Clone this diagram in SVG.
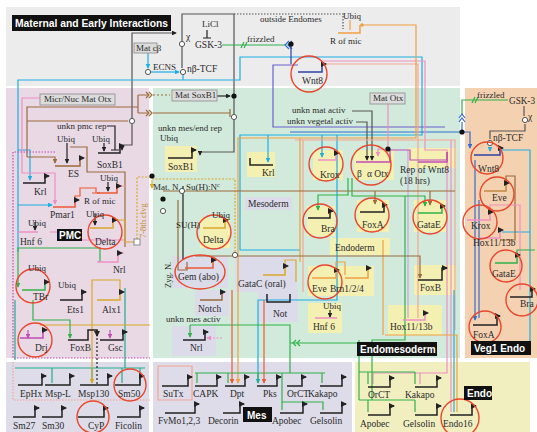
<svg xmlns="http://www.w3.org/2000/svg" width="537" height="432" viewBox="0 0 537 432">
<defs>
<style>
.t{font-family:"Liberation Serif","Times New Roman",serif;font-size:9.5px;fill:#2a2a2a}
.l{font-family:"Liberation Serif","Times New Roman",serif;font-size:9px;fill:#2a2a2a}
.b{font-family:"Liberation Sans",Arial,sans-serif;font-weight:bold;font-size:10px;fill:#fff}
.bx{fill:#111}
.gb{fill:#dcdcdc;stroke:#9a9a9a;stroke-width:1}
.yb{fill:#f4f0b2}
.lb{fill:#dcdbea}
.rc{fill:none;stroke:#e9462b;stroke-width:1.4}
.g{fill:none;stroke:#222;stroke-width:1.5}
#connectors path{fill:none;stroke-width:1.2}
.cy{stroke:#1daee3}.gr{stroke:#2fb24a}.or{stroke:#f0a040}.pk{stroke:#ee8fc4}.sa{stroke:#f3a593}
.gy{stroke:#555}.bk{stroke:#222}.bn{stroke:#9b6b3c}.pu{stroke:#6a5fd0}.bl{stroke:#2f6fd0}
.go{stroke:#d9a82c}.mg{stroke:#c24bb5}.rd{stroke:#ec5a36}.tl{stroke:#22ad8e}.db{stroke:#2b43a8}.lp{stroke:#c9a0e0}
.dot{fill:#111}.od{fill:#fff;stroke:#555;stroke-width:1}
</style>
<marker id="a" viewBox="0 0 6 6" refX="5" refY="3" markerWidth="4" markerHeight="4" orient="auto"><path d="M0,0L6,3L0,6z" fill="#222"/></marker>
<marker id="ac" viewBox="0 0 6 6" refX="5" refY="3" markerWidth="4" markerHeight="4" orient="auto"><path d="M0,0L6,3L0,6z" fill="#1daee3"/></marker>
<marker id="ag" viewBox="0 0 6 6" refX="5" refY="3" markerWidth="4" markerHeight="4" orient="auto"><path d="M0,0L6,3L0,6z" fill="#2fb24a"/></marker>
<marker id="ao" viewBox="0 0 6 6" refX="5" refY="3" markerWidth="4" markerHeight="4" orient="auto"><path d="M0,0L6,3L0,6z" fill="#f0a040"/></marker>
<marker id="ap" viewBox="0 0 6 6" refX="5" refY="3" markerWidth="4" markerHeight="4" orient="auto"><path d="M0,0L6,3L0,6z" fill="#ee8fc4"/></marker>
<marker id="ay" viewBox="0 0 6 6" refX="5" refY="3" markerWidth="4" markerHeight="4" orient="auto"><path d="M0,0L6,3L0,6z" fill="#d9a82c"/></marker>
<marker id="an" viewBox="0 0 6 6" refX="5" refY="3" markerWidth="4" markerHeight="4" orient="auto"><path d="M0,0L6,3L0,6z" fill="#9b6b3c"/></marker>
<marker id="ar" viewBox="0 0 6 6" refX="5" refY="3" markerWidth="4" markerHeight="4" orient="auto"><path d="M0,0L6,3L0,6z" fill="#ec5a36"/></marker>
<marker id="at" viewBox="0 0 6 6" refX="5" refY="3" markerWidth="4" markerHeight="4" orient="auto"><path d="M0,0L6,3L0,6z" fill="#22ad8e"/></marker>
<marker id="am" viewBox="0 0 6 6" refX="5" refY="3" markerWidth="4" markerHeight="4" orient="auto"><path d="M0,0L6,3L0,6z" fill="#c24bb5"/></marker>
<marker id="ab" viewBox="0 0 6 6" refX="5" refY="3" markerWidth="4" markerHeight="4" orient="auto"><path d="M0,0L6,3L0,6z" fill="#2f6fd0"/></marker>
</defs>

<g id="regions">
<rect x="0" y="0" width="537" height="432" fill="#fff"/>
<rect x="6" y="7" width="454" height="79" fill="#ececec"/>
<rect x="6" y="88" width="143" height="270" fill="#e8d9e5"/>
<rect x="153" y="88" width="307" height="270" fill="#d2eadb"/>
<rect x="465" y="88" width="72" height="270" fill="#f4d1b1"/>
<rect x="6" y="362" width="143" height="70" fill="#dddce8"/>
<rect x="153" y="362" width="199" height="70" fill="#dddce8"/>
<rect x="355" y="362" width="175" height="70" fill="#f1efc0"/>
</g>

<g id="boxes">
<rect class="yb" x="165" y="146" width="32" height="26"/>
<rect class="yb" x="247" y="152" width="28" height="25"/>
<rect class="yb" x="313" y="150" width="30" height="30"/>
<rect class="yb" x="354" y="150" width="40" height="30"/>
<rect class="yb" x="408" y="148" width="48" height="20"/>
<rect class="yb" x="307" y="206" width="28" height="30"/>
<rect class="yb" x="357" y="200" width="32" height="32"/>
<rect class="yb" x="414" y="200" width="32" height="32"/>
<rect class="lb" x="245" y="197" width="47" height="13"/>
<rect class="yb" x="330" y="238" width="60" height="17"/>
<rect class="yb" x="200" y="218" width="30" height="30"/>
<rect class="lb" x="172" y="256" width="56" height="32"/>
<rect class="lb" x="235" y="256" width="62" height="36"/>
<rect class="yb" x="308" y="266" width="66" height="30"/>
<rect class="yb" x="414" y="265" width="42" height="30"/>
<rect class="lb" x="195" y="290" width="34" height="26"/>
<rect class="lb" x="258" y="290" width="40" height="32"/>
<rect class="yb" x="308" y="303" width="34" height="30"/>
<rect class="yb" x="388" y="305" width="54" height="30"/>
<rect class="lb" x="172" y="326" width="44" height="30"/>
</g>

<g id="connectors">
<path class="gy" d="M132,119 V33 H176" marker-end="url(#a)"/>
<path class="gy" d="M182,41 V14 H234 V114"/>
<path class="gy" d="M234,120 V152 H200 V155" marker-end="url(#a)"/>
<path class="gy" d="M132,124 V145 H122 V150" marker-end="url(#a)"/>
<path class="gy" d="M234,14 H343 V29" stroke-dasharray="1.5,1.5"/>
<path class="gy" d="M182,47 V68"/>
<path class="bk" d="M207,30 V38 M203,38 H211"/>
<path class="cy" d="M148,53 V68" marker-end="url(#ac)"/>
<path class="cy" d="M151,72 H179" marker-end="url(#ac)"/>
<path class="cy" d="M183,75 V80"/>
<path class="cy" d="M18,252 V80 H240 V57 H422 V135 H240 V250 H300"/>
<path class="cy" d="M268,135 V162" marker-end="url(#ac)"/>
<path class="cy" d="M322,135 V157" marker-end="url(#ac)"/>
<path class="cy" d="M337,135 V300 H258 V383" marker-end="url(#ac)"/>
<path class="cy" d="M18,205 H52" marker-end="url(#ac)"/>
<path class="cy" d="M18,150 H30 V180" marker-end="url(#ac)"/>
<path class="gr" d="M222,45 H285"/>
<path class="gr" d="M241,48 L244,42 M244,48 L247,42"/>
<path class="bl" d="M289,41 L285,45 L289,49 M292,41 L288,45 L292,49"/>
<path class="db" d="M291,44 V64"/>
<path class="pu" d="M298,65 H273 V127 H445"/>
<path class="bl" d="M290,132 H462"/>
<path class="pk" d="M322,61 H425 V150 H447 V373 H373 V384" />
<path class="pk" d="M420,373 V384 M451,140 V412"/>
<path class="sa" d="M322,64 H418 V318"/>
<path class="lp" d="M408,150 V318"/>
<path class="or" d="M362,25 H416 V138 H238 V383" marker-end="url(#ao)"/>
<path class="or" d="M300,138 V262 M383,240 V335"/>
<path class="or" d="M350,20 V30"/>
<path class="bn" d="M27,157 V107 H138"/>
<path class="bn" d="M138,95 V113 M138,95 H148 M138,113 H148 M27,121 H128"/>
<path class="bn" d="M146,92 L149,95 L146,98 M149,92 L152,95 L149,98 M146,110 L149,113 L146,116 M149,110 L152,113 L149,116"/>
<path class="bn" d="M153,95 H170" stroke-dasharray="2,2"/>
<path class="bn" d="M153,113 H230 M230,109 V117"/>
<path class="bk" d="M217,96 H230" marker-end="url(#a)"/>
<path class="bn" d="M27,157 H55 V163" marker-end="url(#an)"/>
<path class="bn" d="M70,147 H87 V172 H125 V247"/>
<path class="bk" d="M67,143 V163" marker-end="url(#a)"/>
<path class="bk" d="M104,143 V151" marker-end="url(#a)"/>
<path class="bk" d="M107,126 H115 V150 M111,150 H119"/>
<path class="bk" d="M108,182 V191" marker-end="url(#a)"/>
<path class="bk" d="M95,214 V225" marker-end="url(#a)"/>
<path class="bk" d="M35,222 V230" marker-end="url(#a)"/>
<path class="pk" d="M41,98 H22 V173 H55 V204" marker-end="url(#ap)"/>
<path class="rd" d="M75,200 V196 H80 V188 H96 V193 M92,193 H100"/>
<path class="sa" d="M117,186 H125"/>
<path class="go" d="M113,220 H125 V242 H134"/>
<path class="go" d="M137,239 V177 H152" stroke-dasharray="2,1.5"/>
<path class="go" d="M152,179 H235 V255" stroke-dasharray="2,1.5"/>
<path class="go" d="M152,180 V188" marker-end="url(#ay)"/>
<path class="gr" d="M100,262 V248 H18 V287" marker-end="url(#ag)"/>
<path class="pk" d="M118,253 H124 M50,232 H58 V240 H124" />
<path class="tl" d="M15,300 V360 M15,368 H145 M52,368 V383 M92,368 V383 M122,368 V383 M140,368 V383 M125,288 V368" />
<path class="go" d="M120,292 V280 H92 V383" marker-end="url(#ay)"/>
<path class="go" d="M40,325 H150"/>
<path class="gr" d="M33,300 V320 H70 V338" marker-end="url(#ag)"/>
<path class="bk" d="M97,330 V385" stroke-dasharray="2,2"/>
<path class="mg" d="M55,152 H13 V358 H150" stroke-dasharray="1.5,1.5"/>
<path class="mg" d="M28,330 V338" marker-end="url(#am)"/>
<path class="mg" d="M110,330 V338" marker-end="url(#am)"/>
<path class="sa" d="M13,362 V400 H150" stroke-dasharray="1.5,1.5"/>
<path class="gy" d="M352,111 H372 V160" marker-end="url(#a)"/>
<path class="gy" d="M356,122 H367 V160" marker-end="url(#a)"/>
<path class="pk" d="M388,103 V149 H378 V156" marker-end="url(#ap)"/>
<path class="mg" d="M390,154 V150 H410 V160 H447 V152"/>
<path class="sa" d="M295,140 H455 V330 M303,140 V292"/>
<path class="bn" d="M163,191 H455"/>
<path class="bn" d="M195,256 H420 V278" marker-end="url(#an)"/>
<path class="bn" d="M430,191 V205" marker-end="url(#an)"/>
<path class="bn" d="M375,191 V204" marker-end="url(#an)"/>
<path class="gr" d="M348,178 V195 H318 V210" marker-end="url(#ag)"/>
<path class="gr" d="M352,178 V196 H425 V206" marker-end="url(#ag)"/>
<path class="gr" d="M405,196 V340 H372 V400"/>
<path class="gr" d="M190,325 H290 V373 M195,373 H325"/>
<path class="gr" d="M197,373 V383 M228,373 V383 M258,373 V383 M322,373 V383 M282,373 V410 M282,402 H323 V410"/>
<path class="gr" d="M290,343 H372"/>
<path class="gr" d="M296,340 L293,343 L296,346 M300,340 L297,343 L300,346"/>
<path class="gr" d="M190,325 V337" marker-end="url(#ag)"/>
<path class="gr" d="M359,340 V400 M359,372 H415 M368,372 V384 M415,372 V384 M359,400 H415 M368,400 V412 M415,400 V412"/>
<path class="cy" d="M454,290 V412"/>
<path class="or" d="M385,335 H457 V412"/>
<path class="rd" d="M232,290 V383" marker-end="url(#ar)"/>
<path class="rd" d="M264,300 V383" marker-end="url(#ar)"/>
<path class="pk" d="M222,338 H207" stroke-dasharray="2,1.5" marker-end="url(#ap)"/>
<path class="bn" d="M178,200 V270 H187 V262"/>
<path class="bk" d="M183,186 V260"/>
<path class="go" d="M285,266 V260 H296 V282"/>
<path class="or" d="M336,270 V262 H345 V275"/>
<path class="sa" d="M158,366 H192 V400 H158 Z"/>
<path class="gr" d="M462,115 V100 H508"/>
<path class="gr" d="M472,103 L475,97 M475,103 L478,97"/>
<path class="bl" d="M459,118 L462,114 L465,118 M459,122 L462,118 L465,122"/>
<path class="bl" d="M462,122 V132 H470 V148" marker-end="url(#ab)"/>
<path class="gy" d="M524,106 V116 M525,124 V131 H490 V139"/>
<path class="cy" d="M490,147 V151" marker-end="url(#ac)"/>
<path class="cy" d="M500,150 H530 V350 M502,232 H530"/>
<path class="bl" d="M475,160 V320" marker-end="url(#ab)"/>
<path class="bl" d="M479,200 V318"/>
<path class="bn" d="M506,185 V176 H515 V240 H500"/>
<path class="pk" d="M490,212 V205 H520 V290"/>
<path class="gr" d="M517,255 V250 H535"/>
</g>

<g id="genes">
<path class="g" d="M338,33 H360 V25" style="stroke:#f0a040"/>
<path class="g" d="M298,72 H322 V64 h4" style="stroke:#2b43a8" marker-end="url(#a)"/>
<path class="g" d="M55,166 H80 V158 h4" style="stroke:#9b6b3c" marker-end="url(#a)"/>
<path class="g" d="M98,153 H120 V146 h4" marker-end="url(#a)"/>
<path class="g" d="M23,183 H45 V176 h4" marker-end="url(#a)"/>
<path class="g" d="M97,193 H117 V186 h4" style="stroke:#ec5a36" marker-end="url(#a)"/>
<path class="g" d="M53,207 H75 V200 h4" style="stroke:#ec5a36" marker-end="url(#a)"/>
<path class="g" d="M90,228 H113 V220 h4" style="stroke:#d9a82c" marker-end="url(#a)"/>
<path class="g" d="M18,232 H38" style="stroke:#ee8fc4"/>
<path class="g" d="M97,262 H118 V253 h4" style="stroke:#ee8fc4" marker-end="url(#a)"/>
<path class="g" d="M22,290 H45 V282 h4" style="stroke:#2fb24a" marker-end="url(#a)"/>
<path class="g" d="M60,300 H82 V292 h4" marker-end="url(#a)"/>
<path class="g" d="M97,300 H120 V292 h4" style="stroke:#d9a82c" marker-end="url(#a)"/>
<path class="g" d="M20,338 H43 V330 h4" style="stroke:#c24bb5" marker-end="url(#a)"/>
<path class="g" d="M68,340 H88 V330 h9 V336" marker-end="url(#a)"/>
<path class="g" d="M100,340 H123 V332 h4" marker-end="url(#a)"/>
<path class="g" d="M18,385 H42 V376 h4" marker-end="url(#a)"/>
<path class="g" d="M45,385 H70 V376 h4" marker-end="url(#a)"/>
<path class="g" d="M80,385 H108 V376 h4" marker-end="url(#a)"/>
<path class="g" d="M115,385 H140 V376 h4" marker-end="url(#a)"/>
<path class="g" d="M13,417 H35 V408 h4" marker-end="url(#a)"/>
<path class="g" d="M42,417 H62 V408 h4" marker-end="url(#a)"/>
<path class="g" d="M78,417 H104 V408 h4" marker-end="url(#a)"/>
<path class="g" d="M117,417 H140 V408 h4" marker-end="url(#a)"/>
<path class="g" d="M168,158 H192 V150 h4" marker-end="url(#a)"/>
<path class="g" d="M250,158 V165 H273"/>
<path class="g" d="M318,160 H336 V153 h3" style="stroke:#ee8fc4" marker-end="url(#a)"/>
<path class="g" d="M356,162 H390 V154" style="stroke:#c24bb5"/>
<path class="g" d="M418,162 H447 V152" style="stroke:#c24bb5"/>
<path class="g" d="M308,218 H330 V211 h3" marker-end="url(#a)"/>
<path class="g" d="M360,212 H384 V205 h3" marker-end="url(#a)"/>
<path class="g" d="M418,213 H442 V206 h3" style="stroke:#2fb24a" marker-end="url(#a)"/>
<path class="g" d="M203,228 H225 V220 h3" style="stroke:#d9a82c" marker-end="url(#a)"/>
<path class="g" d="M185,268 H213 V260 h3" style="stroke:#ec5a36" marker-end="url(#a)"/>
<path class="g" d="M263,275 H285 V266 h3" style="stroke:#d9a82c" marker-end="url(#a)"/>
<path class="g" d="M312,278 H336 V270 h3" style="stroke:#f0a040" marker-end="url(#a)"/>
<path class="g" d="M345,278 H368 V268 h3" style="stroke:#f0a040" marker-end="url(#a)"/>
<path class="g" d="M418,280 H442 V268 h5" marker-end="url(#a)"/>
<path class="g" d="M403,320 H425 V313 h3" style="stroke:#ee8fc4" marker-end="url(#a)"/>
<path class="g" d="M315,318 H337" style="stroke:#ee8fc4"/>
<path class="bk" d="M330,310 V317" fill="none" stroke-width="1.2" marker-end="url(#a)"/>
<path class="g" d="M200,300 H222 V292 h3" style="stroke:#9b6b3c" marker-end="url(#a)"/>
<path class="g" d="M267,294 V302 H290 V294"/>
<path class="g" d="M183,340 H205 V332 h3" marker-end="url(#a)"/>
<path class="g" d="M474,155 H500 V148 h3" style="stroke:#2b43a8" marker-end="url(#a)"/>
<path class="g" d="M484,191 H506 V183 h3" style="stroke:#c08a40" marker-end="url(#a)"/>
<path class="g" d="M467,220 H490 V212 h3" style="stroke:#ee8fc4" marker-end="url(#a)"/>
<path class="g" d="M480,238 H500 V230 h3" style="stroke:#ee8fc4" marker-end="url(#a)"/>
<path class="g" d="M495,263 H517 V255 h3" style="stroke:#2fb24a" marker-end="url(#a)"/>
<path class="g" d="M510,297 H532 V289 h3" marker-end="url(#a)"/>
<path class="g" d="M473,325 H497 V316 h3" marker-end="url(#a)"/>
<path class="g" d="M162,386 H188 V377 h4" marker-end="url(#a)"/>
<path class="g" d="M195,386 H217 V377 h4" marker-end="url(#a)"/>
<path class="g" d="M225,386 H245 V377 h4" marker-end="url(#a)"/>
<path class="g" d="M257,386 H277 V377 h4" marker-end="url(#a)"/>
<path class="g" d="M287,386 H302 V377 h4" marker-end="url(#a)"/>
<path class="g" d="M320,386 H342 V377 h4" marker-end="url(#a)"/>
<path class="g" d="M165,413 H195 V404 h4" marker-end="url(#a)"/>
<path class="g" d="M223,413 H240 V404 h4" marker-end="url(#a)"/>
<path class="g" d="M280,413 H303 V404 h4" marker-end="url(#a)"/>
<path class="g" d="M320,413 H342 V404 h4" marker-end="url(#a)"/>
<path class="g" d="M368,387 H390 V378 h4" marker-end="url(#a)"/>
<path class="g" d="M415,387 H437 V378 h4" marker-end="url(#a)"/>
<path class="g" d="M368,415 H390 V406 h4" marker-end="url(#a)"/>
<path class="g" d="M415,415 H437 V406 h4" marker-end="url(#a)"/>
<path class="g" d="M450,415 H472 V406 h4" marker-end="url(#a)"/>
</g>

<g id="dots">
<circle class="dot" cx="291" cy="44" r="2.6"/>
<circle class="dot" cx="234" cy="96" r="2.6"/>
<circle class="od" cx="234" cy="117" r="2.6"/>
<circle class="od" cx="132" cy="121" r="2.6"/>
<circle class="od" cx="182" cy="44" r="2.6"/>
<circle class="od" cx="183" cy="72" r="2.6"/>
<circle class="od" cx="148" cy="72" r="2.6"/>
<circle class="dot" cx="362" cy="25" r="1.8" style="fill:#f0a040"/>
<circle class="dot" cx="388" cy="149" r="2.6"/>
<circle class="dot" cx="152" cy="176" r="2.6"/>
<circle class="dot" cx="163" cy="199" r="2.6"/>
<circle class="od" cx="163" cy="211" r="2.6"/>
<circle class="od" cx="182" cy="191" r="2.6"/>
<circle class="od" cx="235" cy="255" r="2.6"/>
<rect x="134" y="239" width="6" height="6" fill="#fff" stroke="#888"/>
<circle class="dot" cx="462" cy="132" r="2.6"/>
<circle class="od" cx="525" cy="120" r="2.6"/>
<circle class="od" cx="490" cy="143" r="2.6"/>
</g>

<g id="circles">
<circle class="rc" cx="309" cy="74" r="18"/>
<circle class="rc" cx="105" cy="232" r="17"/>
<circle class="rc" cx="33" cy="286" r="17"/>
<circle class="rc" cx="35" cy="340" r="17"/>
<circle class="rc" cx="130" cy="385" r="16"/>
<circle class="rc" cx="93" cy="417" r="16"/>
<circle class="rc" cx="326" cy="164" r="17"/>
<circle class="rc" cx="371" cy="165" r="20"/>
<circle class="rc" cx="320" cy="221" r="17"/>
<circle class="rc" cx="372" cy="215" r="17"/>
<circle class="rc" cx="430" cy="217" r="17"/>
<circle class="rc" cx="214" cy="232" r="17"/>
<ellipse class="rc" cx="200" cy="272" rx="25" ry="17"/>
<circle class="rc" cx="325" cy="282" r="17"/>
<circle class="rc" cx="487" cy="158" r="16"/>
<circle class="rc" cx="497" cy="194" r="17"/>
<circle class="rc" cx="480" cy="222" r="17"/>
<circle class="rc" cx="506" cy="266" r="16"/>
<circle class="rc" cx="522" cy="300" r="16"/>
<circle class="rc" cx="485" cy="327" r="16"/>
<circle class="rc" cx="460" cy="418" r="19"/>
</g>

<g id="labels">
<rect class="bx" x="12" y="15" width="159" height="16"/>
<text class="b" x="15" y="27" font-size="10.3" textLength="153" lengthAdjust="spacingAndGlyphs">Maternal and Early Interactions</text>
<rect class="gb" x="134" y="43" width="23" height="10"/>
<text class="l" x="136" y="51">Mat cβ</text>
<text class="l" x="202" y="27">LiCl</text>
<text class="t" x="195" y="48">GSK-3</text>
<text class="t" x="186" y="40">χ</text>
<text class="l" x="153" y="70">ECNS</text>
<text class="t" x="187" y="72">nβ-TCF</text>
<text class="l" x="247" y="42">frizzled</text>
<text class="l" x="260" y="22">outside Endomes</text>
<text class="l" x="343" y="19">Ubiq</text>
<text class="l" x="330" y="44">R of mic</text>
<text class="t" x="302" y="84">Wnt8</text>

<rect class="gb" x="40" y="94" width="75" height="11"/>
<text class="l" x="44" y="102">Micr/Nuc Mat Otx</text>
<text class="l" x="57" y="129">unkn pmc rep</text>
<text class="l" x="57" y="142">Ubiq</text>
<text class="l" x="92" y="142">Ubiq</text>
<text class="t" x="68" y="177">ES</text>
<text class="t" x="97" y="168">SoxB1</text>
<text class="t" x="34" y="195">Krl</text>
<text class="l" x="100" y="181">Ubiq</text>
<text class="l" x="84" y="204">R of mic</text>
<text class="t" x="50" y="218">Pmar1</text>
<text class="l" x="86" y="217">Ubiq</text>
<text class="l" x="28" y="226">Ubiq</text>
<rect class="bx" x="57" y="229" width="25" height="12"/>
<text class="b" x="59" y="239">PMC</text>
<text class="t" x="20" y="245">Hnf 6</text>
<text class="t" x="95" y="245">Delta</text>
<text class="t" x="113" y="273">Nrl</text>
<text class="l" x="28" y="271">Ubiq</text>
<text class="l" x="58" y="288">Ubiq</text>
<text class="t" x="33" y="300">TBr</text>
<text class="t" x="67" y="313">Ets1</text>
<text class="t" x="102" y="313">Alx1</text>
<text class="t" x="35" y="351">Drj</text>
<text class="t" x="70" y="351">FoxB</text>
<text class="t" x="108" y="351">Gsc</text>
<text class="t" x="20" y="397">EpHx</text>
<text class="t" x="45" y="397">Msp-L</text>
<text class="t" x="78" y="397">Msp130</text>
<text class="t" x="118" y="397">Sm50</text>
<text class="t" x="13" y="429">Sm27</text>
<text class="t" x="42" y="429">Sm30</text>
<text class="t" x="88" y="429">CyP</text>
<text class="t" x="115" y="429">Ficolin</text>
<text class="l" x="0" y="0" transform="translate(146,238) rotate(-90)" style="fill:#c09020;font-size:8.5px">7-8th clvg</text>

<rect class="gb" x="172" y="90" width="45" height="11"/>
<text class="l" x="175" y="98">Mat SoxB1</text>
<text class="l" x="158" y="131">unkn mes/end rep</text>
<text class="l" x="160" y="141">Ubiq</text>
<text class="t" x="168" y="170">SoxB1</text>
<text class="t" x="262" y="176">Krl</text>
<text class="l" x="292" y="113">unkn mat activ</text>
<text class="l" x="287" y="124">unkn vegetal activ</text>
<rect class="gb" x="370" y="93" width="35" height="11"/>
<text class="l" x="373" y="101">Mat Otx</text>
<text class="t" x="320" y="178">Krox</text>
<text class="t" x="357" y="177">β</text>
<text class="t" x="367" y="177">α Otx</text>
<text class="t" x="400" y="173">Rep of Wnt8</text>
<text class="t" x="400" y="184">(18 hrs)</text>
<text class="l" x="153" y="190">Mat. N</text>
<text class="l" x="186" y="190">Su(H):N<tspan dy="-3" font-size="6">c</tspan></text>
<text class="t" x="248" y="207">Mesoderm</text>
<text class="t" x="321" y="232">Bra</text>
<text class="t" x="362" y="228">FoxA</text>
<text class="t" x="417" y="228">GataE</text>
<text class="l" x="176" y="228">SU(H)</text>
<text class="l" x="212" y="218">Ubiq</text>
<text class="t" x="203" y="243">Delta</text>
<text class="t" x="335" y="251">Endoderm</text>
<text class="l" x="0" y="0" transform="translate(171,288) rotate(-90)" style="font-size:8.5px">Zyg. N.</text>
<text class="t" x="178" y="280">Gem (abo)</text>
<text class="t" x="238" y="287">GataC (oral)</text>
<text class="t" x="312" y="292">Eve</text>
<text class="t" x="330" y="292">Brn1/2/4</text>
<text class="t" x="420" y="291">FoxB</text>
<text class="t" x="198" y="312">Notch</text>
<text class="l" x="323" y="309">Ubiq</text>
<text class="t" x="273" y="317">Not</text>
<text class="l" x="166" y="322">unkn mes activ</text>
<text class="t" x="313" y="330">Hnf 6</text>
<text class="t" x="390" y="330">Hox11/13b</text>
<text class="t" x="190" y="351">Nrl</text>
<rect class="bx" x="357" y="342" width="80" height="14"/>
<text class="b" x="360" y="353">Endomesoderm</text>

<text class="l" x="477" y="98">frizzled</text>
<text class="t" x="509" y="104" textLength="26" lengthAdjust="spacingAndGlyphs">GSK-3</text>
<text class="t" x="528" y="120">χ</text>
<text class="t" x="493" y="141">nβ-TCF</text>
<text class="t" x="478" y="172">Wnt8</text>
<text class="t" x="492" y="201">Eve</text>
<text class="t" x="471" y="229">Krox</text>
<text class="t" x="473" y="246">Hox11/13b</text>
<text class="t" x="492" y="277">GataE</text>
<text class="t" x="520" y="307">Bra</text>
<text class="t" x="473" y="338">FoxA</text>
<rect class="bx" x="471" y="341" width="60" height="14"/>
<text class="b" x="474" y="352">Veg1 Endo</text>

<text class="t" x="163" y="397">SuTx</text>
<text class="t" x="193" y="397">CAPK</text>
<text class="t" x="230" y="397">Dpt</text>
<text class="t" x="263" y="397">Pks</text>
<text class="t" x="287" y="397">OrCT</text>
<text class="t" x="308" y="397">Kakapo</text>
<text class="t" x="158" y="424">FvMo1,2,3</text>
<text class="t" x="208" y="424">Decorin</text>
<rect class="bx" x="243" y="407" width="29" height="15"/>
<text class="b" x="247" y="419">Mes</text>
<text class="t" x="272" y="424">Apobec</text>
<text class="t" x="310" y="424">Gelsolin</text>

<text class="t" x="368" y="398">OrCT</text>
<text class="t" x="405" y="398">Kakapo</text>
<rect class="bx" x="464" y="386" width="28" height="14"/>
<text class="b" x="467" y="397">Endo</text>
<text class="t" x="360" y="427">Apobec</text>
<text class="t" x="403" y="427">Gelsolin</text>
<text class="t" x="443" y="427">Endo16</text>
</g>
</svg>
